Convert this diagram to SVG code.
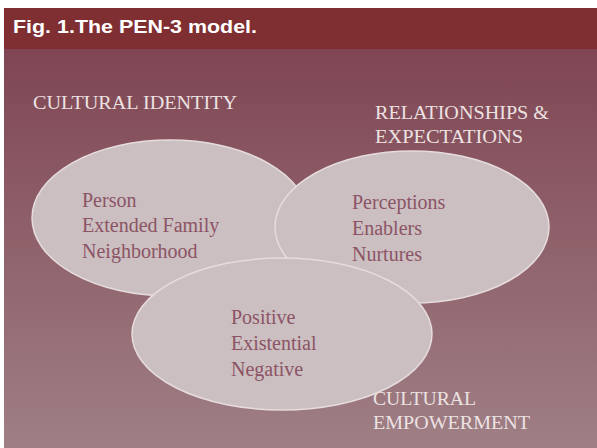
<svg xmlns="http://www.w3.org/2000/svg" width="597" height="448" viewBox="0 0 597 448">
<defs>
<linearGradient id="bg" x1="0" y1="0" x2="0" y2="1">
<stop offset="0" stop-color="#7c3f4f"/>
<stop offset="0.5" stop-color="#8e6069"/>
<stop offset="1" stop-color="#9f7f85"/>
</linearGradient>
<style>
.ell{fill:#cbbfc1;stroke:#e6dcdd;stroke-width:1.5}
.lbl{font-family:"Liberation Serif","Times New Roman",serif;font-size:18px;fill:#ece2e2}
.inr{font-family:"Liberation Serif","Times New Roman",serif;font-size:20px;fill:#8c5465}
.hdr{font-family:"Liberation Sans",Arial,sans-serif;font-size:19px;font-weight:bold;fill:#ffffff}
</style>
</defs>
<rect x="0" y="0" width="597" height="448" fill="#ffffff"/>
<rect x="4" y="8" width="593" height="440" fill="url(#bg)"/>
<rect x="4" y="8" width="593" height="41" fill="#7f2e31"/>
<text class="hdr" x="13" y="33" textLength="244" lengthAdjust="spacingAndGlyphs">Fig. 1.The PEN-3 model.</text>
<text class="lbl" x="33" y="109" textLength="204" lengthAdjust="spacingAndGlyphs">CULTURAL IDENTITY</text>
<text class="lbl" x="375" y="119" textLength="174" lengthAdjust="spacingAndGlyphs">RELATIONSHIPS &amp;</text>
<text class="lbl" x="375" y="143" textLength="148" lengthAdjust="spacingAndGlyphs">EXPECTATIONS</text>
<text class="lbl" x="373" y="405" textLength="103" lengthAdjust="spacingAndGlyphs">CULTURAL</text>
<text class="lbl" x="373" y="429" textLength="157" lengthAdjust="spacingAndGlyphs">EMPOWERMENT</text>
<g id="node-person">
<ellipse class="ell" cx="170" cy="218" rx="138" ry="78"/>
<text class="inr" x="82" y="207">Person</text>
<text class="inr" x="82" y="232">Extended Family</text>
<text class="inr" x="82" y="258">Neighborhood</text>
</g>
<g id="node-perceptions">
<ellipse class="ell" cx="412" cy="227" rx="137" ry="76"/>
<text class="inr" x="352" y="209">Perceptions</text>
<text class="inr" x="352" y="235">Enablers</text>
<text class="inr" x="352" y="261">Nurtures</text>
</g>
<g id="node-positive">
<ellipse class="ell" cx="282" cy="334" rx="150" ry="76"/>
<text class="inr" x="231" y="324">Positive</text>
<text class="inr" x="231" y="350">Existential</text>
<text class="inr" x="231" y="376">Negative</text>
</g>
<g id="connectors"/>
</svg>
